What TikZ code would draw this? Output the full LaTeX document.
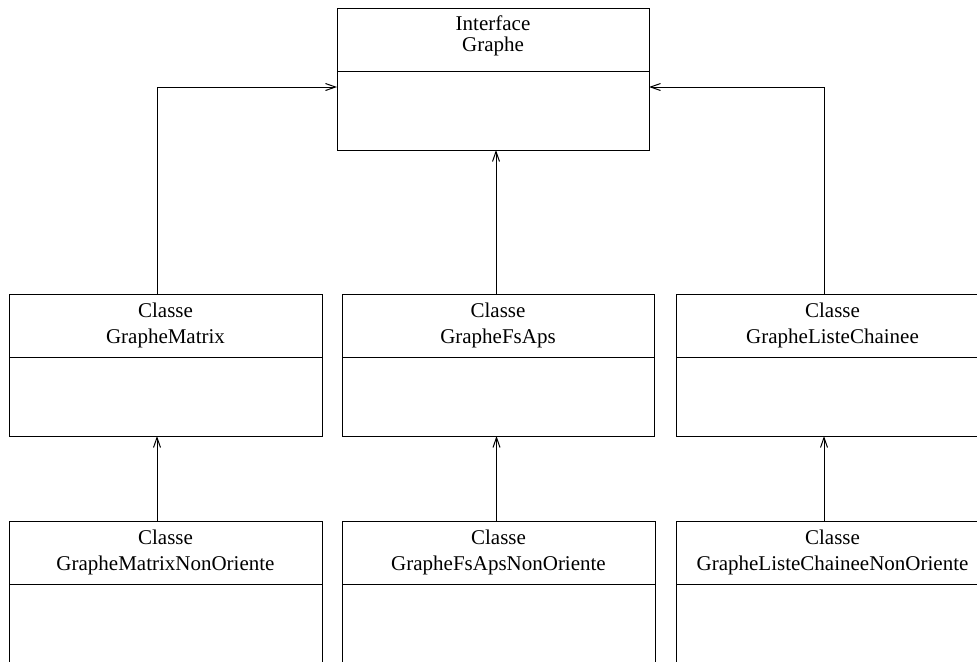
\documentclass[tikz,border=0pt]{standalone}
\usepackage{fontspec}
\setmainfont{Liberation Serif}
\usetikzlibrary{positioning,arrows.meta}
\tikzset{
  head/.style={draw, line width=0.5pt, anchor=north, minimum width=156.5pt,
               minimum height=31.5pt, inner sep=0pt, outer sep=0pt, align=center,
               font=\fontsize{10.5}{13.25}\selectfont},
  iface/.style={head, minimum width=156pt, font=\fontsize{10.5}{10.5}\selectfont},
  body/.style={draw, line width=0.5pt, minimum width=156.5pt, minimum height=39.5pt,
               inner sep=0pt, outer sep=0pt},
  inh/.style={-{Straight Barb[length=5pt,width=3.5pt]}, line width=0.5pt},
}

\begin{document}
\begin{tikzpicture}[x=0.5pt, y=-0.5pt]
  \clip (0,0) rectangle (977,661);

  % interface
  \node[iface] (gr) at (493,8) {Interface\\Graphe\rule[-6pt]{0pt}{0pt}};
  \node[body, minimum width=156pt, below=0pt of gr] (grb) {};

  % implementations
  \node[head] (gm) at (165.5,294) {Classe\\GrapheMatrix};
  \node[body, below=0pt of gm] (gmb) {};
  \node[head, minimum width=156pt] (fs) at (498,294) {Classe\\GrapheFsAps};
  \node[body, minimum width=156pt, below=0pt of fs] (fsb) {};
  \node[head] (lc) at (832.5,294) {Classe\\GrapheListeChainee};
  \node[body, below=0pt of lc] (lcb) {};

  % non oriented versions
  \node[head] (gmn) at (165.5,521) {Classe\\GrapheMatrixNonOriente};
  \node[body, below=0pt of gmn] (gmnb) {};
  \node[head] (fsn) at (498.5,521) {Classe\\GrapheFsApsNonOriente};
  \node[body, below=0pt of fsn] (fsnb) {};
  \node[head] (lcn) at (832.5,521) {Classe\\GrapheListeChaineeNonOriente};
  \node[body, below=0pt of lcn] (lcnb) {};

  \draw[inh] ([xshift=-4.25pt]gm.north) |- ([yshift=-8pt]grb.north west);
  \draw[inh] ([xshift=-1pt]fs.north) -- ([xshift=-1pt]fs.north |- grb.south);
  \draw[inh] ([xshift=-4.25pt]lc.north) |- ([yshift=-8pt]grb.north east);

  \draw[inh] ([xshift=-4.25pt]gmn.north) -- ([xshift=-4.25pt]gmb.south);
  \draw[inh] ([xshift=-1pt]fsn.north) -- ([xshift=-1pt]fsn.north |- fsb.south);
  \draw[inh] ([xshift=-4.25pt]lcn.north) -- ([xshift=-4.25pt]lcb.south);
\end{tikzpicture}
\end{document}
